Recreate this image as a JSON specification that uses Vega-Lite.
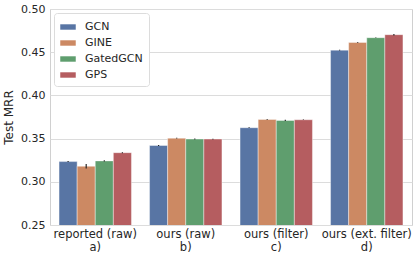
{
  "$schema": "https://vega.github.io/schema/vega-lite/v6.json",
  "width": 362,
  "height": 216,
  "autosize": {"type": "none"},
  "padding": {"left": 50, "top": 9, "right": 3, "bottom": 33},
  "background": "white",
  "config": {
    "font": "DejaVu Sans",
    "view": {"stroke": "#d0d0d0", "strokeWidth": 1},
    "axis": {"labelColor": "#262626", "titleColor": "#262626", "labelFontSize": 11, "titleFontSize": 12, "titleFontWeight": "normal", "domain": false, "ticks": false, "gridColor": "#dcdcdc", "gridWidth": 1}
  },
  "data": {"values": [
    {"setting": "reported (raw)\na)", "model": "GCN", "mrr": 0.3234, "err": 0.0006},
    {"setting": "reported (raw)\na)", "model": "GINE", "mrr": 0.3180, "err": 0.0027},
    {"setting": "reported (raw)\na)", "model": "GatedGCN", "mrr": 0.3242, "err": 0.0007},
    {"setting": "reported (raw)\na)", "model": "GPS", "mrr": 0.3337, "err": 0.0006},
    {"setting": "ours (raw)\nb)", "model": "GCN", "mrr": 0.3420, "err": 0.0007},
    {"setting": "ours (raw)\nb)", "model": "GINE", "mrr": 0.3505, "err": 0.0005},
    {"setting": "ours (raw)\nb)", "model": "GatedGCN", "mrr": 0.3495, "err": 0.0006},
    {"setting": "ours (raw)\nb)", "model": "GPS", "mrr": 0.3495, "err": 0.0004},
    {"setting": "ours (filter)\nc)", "model": "GCN", "mrr": 0.3626, "err": 0.0004},
    {"setting": "ours (filter)\nc)", "model": "GINE", "mrr": 0.3722, "err": 0.0004},
    {"setting": "ours (filter)\nc)", "model": "GatedGCN", "mrr": 0.3710, "err": 0.0007},
    {"setting": "ours (filter)\nc)", "model": "GPS", "mrr": 0.3718, "err": 0.0004},
    {"setting": "ours (ext. filter)\nd)", "model": "GCN", "mrr": 0.4524, "err": 0.0004},
    {"setting": "ours (ext. filter)\nd)", "model": "GINE", "mrr": 0.4613, "err": 0.0004},
    {"setting": "ours (ext. filter)\nd)", "model": "GatedGCN", "mrr": 0.4668, "err": 0.0003},
    {"setting": "ours (ext. filter)\nd)", "model": "GPS", "mrr": 0.4703, "err": 0.0009}
  ]},
  "encoding": {
    "x": {"field": "setting", "type": "nominal", "sort": null, "title": null,
      "scale": {"paddingInner": 0.2, "paddingOuter": 0.1},
      "axis": {"labelAngle": 0, "grid": false, "labelExpr": "split(datum.label, '\\n')", "labelPadding": 3, "labelLineHeight": 13, "labelFontSize": 11.5}},
    "xOffset": {"field": "model", "type": "nominal", "sort": ["GCN", "GINE", "GatedGCN", "GPS"], "scale": {"paddingInner": 0, "paddingOuter": 0}}
  },
  "layer": [
    {
      "mark": {"type": "bar", "clip": true, "stroke": "white", "strokeWidth": 0.4},
      "encoding": {
        "y": {"field": "mrr", "type": "quantitative", "title": "Test MRR",
          "scale": {"domain": [0.25, 0.5], "zero": false, "nice": false},
          "axis": {"values": [0.25, 0.3, 0.35, 0.4, 0.45, 0.5], "format": ".2f", "labelPadding": 5, "titlePadding": 5}},
        "color": {"field": "model", "type": "nominal", "sort": ["GCN", "GINE", "GatedGCN", "GPS"],
          "scale": {"domain": ["GCN", "GINE", "GatedGCN", "GPS"], "range": ["#5875A4", "#CC8963", "#5F9E6E", "#B55D60"]},
          "legend": {"title": null, "orient": "top-left", "offset": 4, "padding": 6, "strokeColor": "#dcdcdc", "cornerRadius": 3, "fillColor": "white",
            "symbolType": "M-1,-0.35H1V0.35H-1Z", "symbolSize": 240, "symbolStrokeWidth": 0, "labelFontSize": 11, "labelColor": "#262626", "rowPadding": 3, "labelOffset": 9}}
      }
    },
    {
      "mark": {"type": "errorbar", "color": "#262626", "thickness": 1.2},
      "encoding": {
        "y": {"field": "mrr", "type": "quantitative", "title": "Test MRR"},
        "yError": {"field": "err"}
      }
    }
  ]
}
